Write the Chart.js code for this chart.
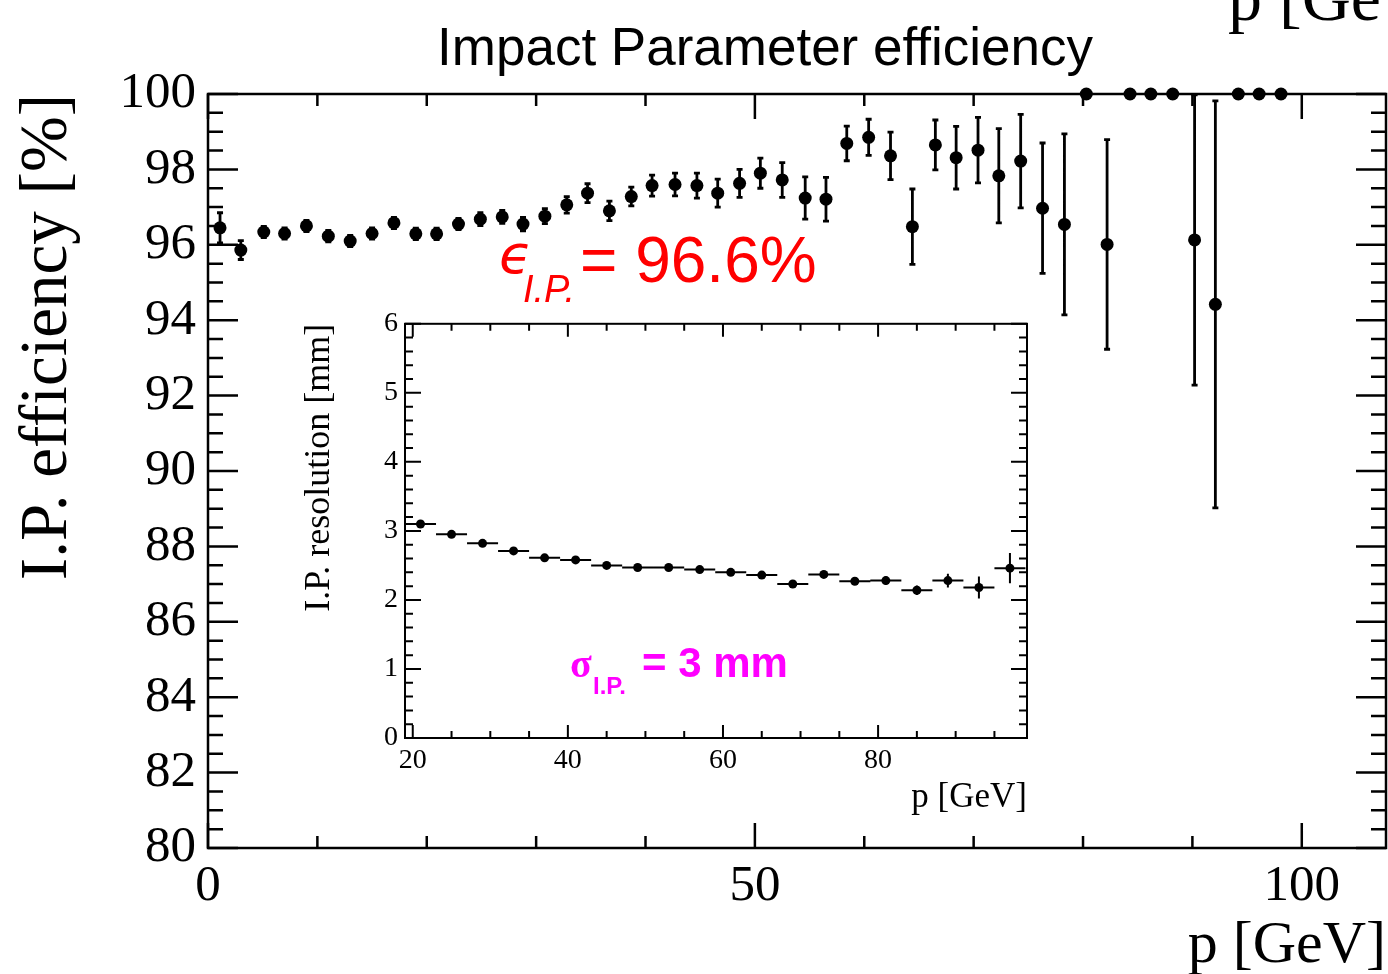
<!DOCTYPE html>
<html>
<head>
<meta charset="utf-8">
<script src="https://cdn.jsdelivr.net/npm/chart.js@4.4.1/dist/chart.umd.min.js"></script>
<style>
  html, body { margin: 0; padding: 0; background: #fff; overflow: hidden; }
  #main { position: absolute; left: 0; top: 0; width: 1388px; height: 1000px; }
  #inset { position: absolute; left: 290px; top: 300px; width: 750px; height: 530px; }
</style>
</head>
<body>
<div id="main"><canvas id="mainChart"></canvas></div>
<div id="inset"><canvas id="insetChart"></canvas></div>
<script>
// efficiency vs momentum (main plot)
const effP = [1.1, 3.0, 5.1, 7.0, 9.0, 11.0, 13.0, 15.0, 17.0, 19.0,
    20.9, 22.9, 24.9, 26.9, 28.8, 30.8, 32.8, 34.7, 36.7, 38.7,
    40.6, 42.7, 44.7, 46.6, 48.6, 50.5, 52.5, 54.6, 56.5, 58.4,
    60.4, 62.4, 64.4, 66.5, 68.4, 70.4, 72.3, 74.3, 76.3, 78.3,
    80.3, 82.2, 84.3, 86.2, 88.2, 90.2, 92.1, 94.2, 96.1, 98.1];
const effVal = [96.45, 95.86, 96.34, 96.3, 96.5, 96.23, 96.1, 96.3, 96.58, 96.29,
    96.29, 96.55, 96.68, 96.74, 96.55, 96.76, 97.06, 97.37, 96.9, 97.28,
    97.57, 97.6, 97.57, 97.37, 97.63, 97.9, 97.72, 97.24, 97.21, 98.69,
    98.85, 98.36, 96.48, 98.65, 98.31, 98.51, 97.83, 98.22, 96.97, 96.54,
    100, 96.01, 100, 100, 100, 96.13, 94.42, 100, 100, 100];
const effErr = [0.40, 0.25, 0.15, 0.15, 0.15, 0.15, 0.15, 0.15, 0.15, 0.15,
    0.15, 0.15, 0.17, 0.17, 0.18, 0.20, 0.22, 0.25, 0.26, 0.25,
    0.28, 0.30, 0.33, 0.37, 0.37, 0.40, 0.46, 0.56, 0.58, 0.46,
    0.48, 0.63, 1.00, 0.66, 0.83, 0.87, 1.25, 1.24, 1.73, 2.40,
    0, 2.78, 0, 0, 0, 3.85, 5.40, 0, 0, 0];
const effTickLabels = [0, 50, 100];

// resolution vs momentum (inset)
const resP = [21, 25, 29, 33, 37, 41, 45, 49, 53, 57, 61, 65, 69, 73, 77, 81, 85, 89, 93, 97];
const resVal = [3.10, 2.95, 2.82, 2.71, 2.61, 2.58, 2.50, 2.47, 2.47, 2.44,
    2.40, 2.36, 2.23, 2.37, 2.27, 2.28, 2.14, 2.28, 2.18, 2.46];
const resErrY = [0.03, 0.03, 0.03, 0.03, 0.03, 0.03, 0.03, 0.03, 0.03, 0.04,
    0.04, 0.04, 0.05, 0.05, 0.05, 0.06, 0.07, 0.10, 0.16, 0.22];
const resErrX = [2, 2, 2, 2, 2, 2, 2, 2, 2, 2, 2, 2, 2, 2, 2, 2, 2, 2, 2, 2];
const resTickLabels = [20, 40, 60, 80];

const SERIF = '"Liberation Serif", "Times New Roman", serif';
const SANS = '"Liberation Sans", Arial, sans-serif';

// tick list helper: [value, isMajor]
function tickList(from, to, step, majorEvery) {
    const out = [];
    const n = Math.round((to - from) / step);
    for (let i = 0; i <= n; i++) {
        const v = from + i * step;
        out.push([v, Math.abs(v / majorEvery - Math.round(v / majorEvery)) < 1e-6]);
    }
    return out;
}

// ROOT style frame with inward ticks on all four sides
const rootFrame = {
    id: 'rootFrame',
    afterDraw(chart, args, o) {
        const { ctx, chartArea: a } = chart;
        const xs = chart.scales.x, ys = chart.scales.y;
        ctx.save();
        ctx.strokeStyle = '#000';
        ctx.lineWidth = o.lineWidth;
        ctx.strokeRect(a.left, a.top, a.right - a.left, a.bottom - a.top);
        ctx.beginPath();
        o.xTicks.forEach(([v, major]) => {
            const px = xs.getPixelForValue(v);
            const len = major ? o.xMajor : o.xMinor;
            ctx.moveTo(px, a.bottom); ctx.lineTo(px, a.bottom - len);
            ctx.moveTo(px, a.top); ctx.lineTo(px, a.top + len);
        });
        o.yTicks.forEach(([v, major]) => {
            const py = ys.getPixelForValue(v);
            const len = major ? o.yMajor : o.yMinor;
            ctx.moveTo(a.left, py); ctx.lineTo(a.left + len, py);
            ctx.moveTo(a.right, py); ctx.lineTo(a.right - len, py);
        });
        ctx.stroke();
        ctx.restore();
    }
};

// error bars read from dataset.errY / dataset.errX
const errorBars = {
    id: 'errorBars',
    beforeDatasetsDraw(chart, args, o) {
        const ctx = chart.ctx;
        const xs = chart.scales.x, ys = chart.scales.y;
        ctx.save();
        ctx.strokeStyle = '#000';
        ctx.lineWidth = o.width;
        ctx.beginPath();
        chart.data.datasets.forEach(ds => {
            ds.data.forEach((p, i) => {
                const px = xs.getPixelForValue(p.x);
                const py = ys.getPixelForValue(p.y);
                const ey = ds.errY ? ds.errY[i] : 0;
                const ex = ds.errX ? ds.errX[i] : 0;
                if (ey > 0) {
                    const t = ys.getPixelForValue(Math.min(p.y + ey, ys.max));
                    const b = ys.getPixelForValue(p.y - ey);
                    ctx.moveTo(px, t); ctx.lineTo(px, b);
                    if (o.cap) {
                        ctx.moveTo(px - o.cap, t); ctx.lineTo(px + o.cap, t);
                        ctx.moveTo(px - o.cap, b); ctx.lineTo(px + o.cap, b);
                    }
                }
                if (ex > 0) {
                    ctx.moveTo(xs.getPixelForValue(p.x - ex), py);
                    ctx.lineTo(xs.getPixelForValue(p.x + ex), py);
                }
            });
        });
        ctx.stroke();
        ctx.restore();
    }
};

// free text (title, fit results)
const labels = {
    id: 'labels',
    afterDraw(chart, args, o) {
        const ctx = chart.ctx;
        ctx.save();
        ctx.textBaseline = 'alphabetic';
        o.items.forEach(t => {
            ctx.font = t.font;
            ctx.fillStyle = t.color;
            ctx.textAlign = t.align || 'left';
            ctx.fillText(t.text, t.x, t.y);
        });
        ctx.restore();
    }
};

const mainPoints = effP.map((p, i) => ({ x: p, y: effVal[i] }));
const insetPoints = resP.map((p, i) => ({ x: p, y: resVal[i] }));

new Chart(document.getElementById('mainChart').getContext('2d'), {
    type: 'scatter',
    data: {
        datasets: [{
            data: mainPoints,
            errY: effErr,
            pointRadius: 6.5,
            pointBackgroundColor: '#000',
            pointBorderWidth: 0,
            showLine: false,
            clip: false
        }]
    },
    options: {
        responsive: true,
        maintainAspectRatio: false,
        animation: false,
        layout: { autoPadding: false, padding: { top: 94, right: 2, left: 0, bottom: 0 } },
        scales: {
            x: {
                type: 'linear',
                min: 0,
                max: 107.7,
                grid: { display: false, drawTicks: false },
                border: { display: false },
                afterBuildTicks: s => { s.ticks = effTickLabels.map(v => ({ value: v })); },
                ticks: {
                    padding: 8,
                    maxRotation: 0,
                    autoSkip: false,
                    color: '#000',
                    font: { family: SERIF, size: 51 }
                },
                title: {
                    display: true,
                    text: 'p [GeV]',
                    align: 'end',
                    color: '#000',
                    font: { family: SERIF, size: 60 },
                    padding: { top: 0, bottom: 18 }
                },
                afterFit: s => { s.height = 152; }
            },
            y: {
                type: 'linear',
                min: 80,
                max: 100,
                grid: { display: false, drawTicks: false },
                border: { display: false },
                ticks: {
                    stepSize: 2,
                    padding: 12,
                    color: '#000',
                    font: { family: SERIF, size: 51 }
                },
                title: {
                    display: true,
                    text: 'I.P. efficiency [%]',
                    align: 'end',
                    color: '#000',
                    font: { family: SERIF, size: 67 },
                    padding: { top: 8, bottom: 0 }
                },
                afterFit: s => { s.width = 208; }
            }
        },
        plugins: {
            legend: { display: false },
            tooltip: { enabled: false },
            rootFrame: {
                lineWidth: 2.5,
                xTicks: tickList(0, 100, 10, 50),
                yTicks: tickList(80, 100, 0.5, 2),
                xMajor: 25, xMinor: 12,
                yMajor: 30, yMinor: 15
            },
            errorBars: { width: 2.8, cap: 3 },
            labels: {
                items: [
                    { text: 'Impact Parameter efficiency', x: 765, y: 65, align: 'center', color: '#000', font: '53px ' + SANS },
                    { text: 'p [GeV]', x: 1228, y: 20, color: '#000', font: '68px ' + SERIF },
                    { text: '\u03F5', x: 499, y: 273, color: '#ff0000', font: 'italic 54px "DejaVu Sans", sans-serif' },
                    { text: 'I.P.', x: 523, y: 302, color: '#ff0000', font: 'italic 38px ' + SANS },
                    { text: '= 96.6%', x: 580, y: 282, color: '#ff0000', font: '64px ' + SANS }
                ]
            }
        }
    },
    plugins: [errorBars, rootFrame, labels]
});

new Chart(document.getElementById('insetChart').getContext('2d'), {
    type: 'scatter',
    data: {
        datasets: [{
            data: insetPoints,
            errY: resErrY,
            errX: resErrX,
            pointRadius: 4.5,
            pointBackgroundColor: '#000',
            pointBorderWidth: 0,
            showLine: false,
            clip: false
        }]
    },
    options: {
        responsive: true,
        maintainAspectRatio: false,
        animation: false,
        layout: { autoPadding: false, padding: { top: 21, right: 13, left: 0, bottom: 0 } },
        scales: {
            x: {
                type: 'linear',
                min: 19,
                max: 99.2,
                grid: { display: false, drawTicks: false },
                border: { display: false },
                afterBuildTicks: s => { s.ticks = resTickLabels.map(v => ({ value: v })); },
                ticks: {
                    padding: 6,
                    maxRotation: 0,
                    autoSkip: false,
                    color: '#000',
                    font: { family: SERIF, size: 28 }
                },
                title: {
                    display: true,
                    text: 'p [GeV]',
                    align: 'end',
                    color: '#000',
                    font: { family: SERIF, size: 35 },
                    padding: { top: 0, bottom: 11 }
                },
                afterFit: s => { s.height = 92; }
            },
            y: {
                type: 'linear',
                min: 0,
                max: 6,
                grid: { display: false, drawTicks: false },
                border: { display: false },
                ticks: {
                    stepSize: 1,
                    padding: 7,
                    color: '#000',
                    font: { family: SERIF, size: 28 }
                },
                title: {
                    display: true,
                    text: 'I.P. resolution [mm]',
                    align: 'end',
                    color: '#000',
                    font: { family: SERIF, size: 36 },
                    padding: { top: 8, bottom: 0 }
                },
                afterFit: s => { s.width = 115; }
            }
        },
        plugins: {
            legend: { display: false },
            tooltip: { enabled: false },
            rootFrame: {
                lineWidth: 2,
                xTicks: tickList(20, 95, 5, 20),
                yTicks: tickList(0, 6, 0.2, 1),
                xMajor: 13, xMinor: 7,
                yMajor: 16, yMinor: 8
            },
            errorBars: { width: 2, cap: 0 },
            labels: {
                items: [
                    { text: '\u03C3', x: 280, y: 377, color: '#ff00ff', font: 'bold 40px ' + SERIF },
                    { text: 'I.P.', x: 303, y: 394, color: '#ff00ff', font: 'bold 24px ' + SANS },
                    { text: '= 3 mm', x: 352, y: 377, color: '#ff00ff', font: 'bold 42px ' + SANS }
                ]
            }
        }
    },
    plugins: [errorBars, rootFrame, labels]
});
</script>
</body>
</html>
